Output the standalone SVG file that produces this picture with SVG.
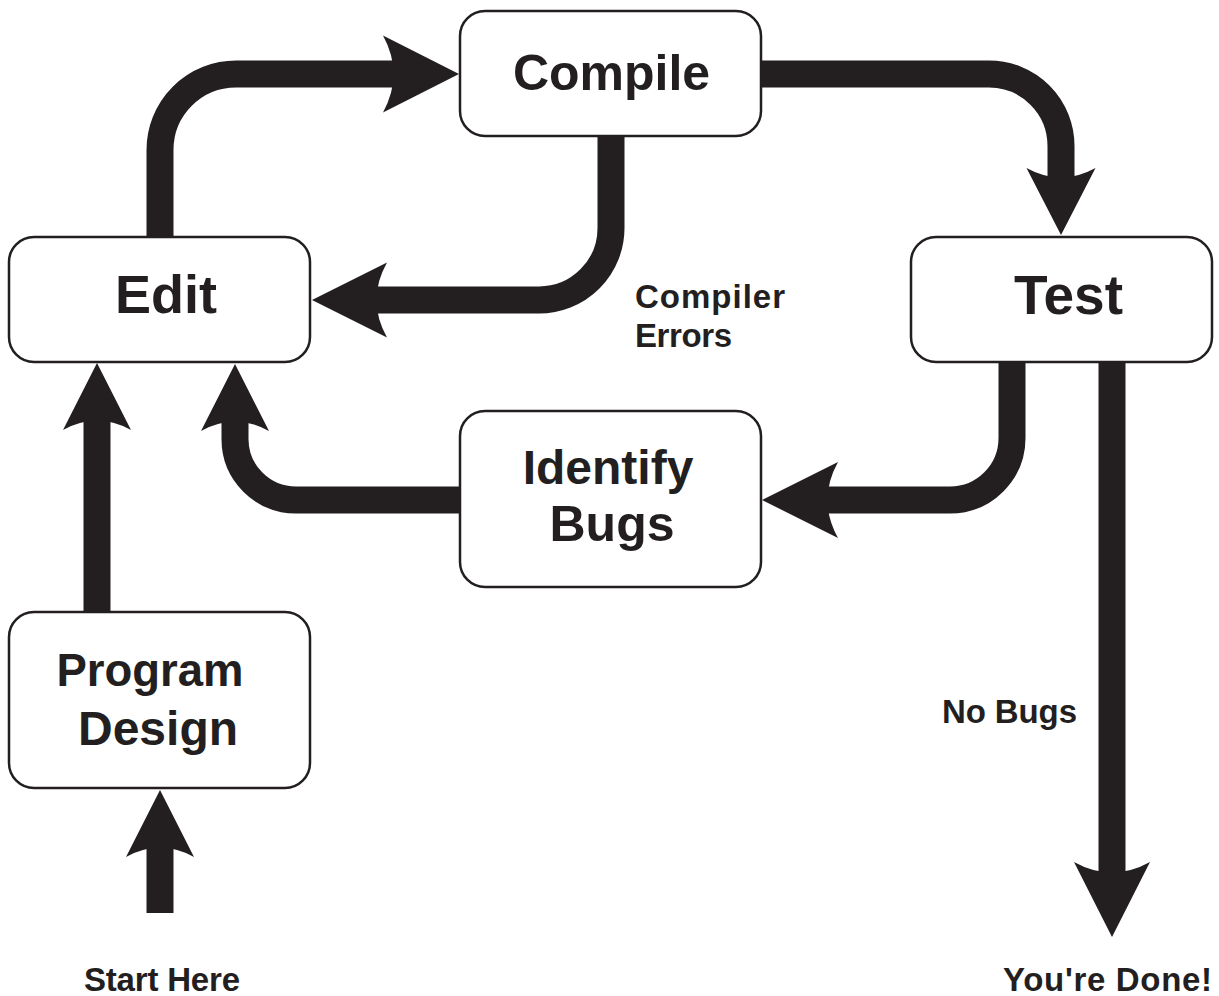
<svg xmlns="http://www.w3.org/2000/svg" width="1219" height="996" viewBox="0 0 1219 996">
<style>
.box{fill:#fff;stroke:#231f20;stroke-width:2.5}
.shaft{fill:none;stroke:#231f20;stroke-width:27;stroke-linecap:butt}
.head{fill:#231f20;stroke:none}
text{font-family:"Liberation Sans",Arial,sans-serif;font-weight:bold;fill:#231f20;text-anchor:middle}
.lbl{font-size:33px;text-anchor:start}
</style>
<rect width="1219" height="996" fill="#fff"/>
<g id="connectors">
<path class="shaft" d="M160 237 V150 A76 76 0 0 1 236 74 H400"/>
<path class="head" d="M459 74 L383 35.5 Q404 74 383 112.5 Z"/>
<path class="shaft" d="M611 136 V228 A72 72 0 0 1 539 300 H375"/>
<path class="head" d="M312 300 L387 262.5 Q366 300 387 337.5 Z"/>
<path class="shaft" d="M761 74 H989 A72 72 0 0 1 1061 146 V180"/>
<path class="head" d="M1061 235 L1026.5 168 Q1061 187 1095.5 168 Z"/>
<path class="shaft" d="M1012 362 V438 A62 62 0 0 1 950 500 H820"/>
<path class="head" d="M762 500 L838 462 Q817 500 838 538 Z"/>
<path class="shaft" d="M460 500 H296 A61 61 0 0 1 235 439 V420"/>
<path class="head" d="M235 364 L201 431 Q235 412 269 431 Z"/>
<path class="shaft" d="M97 612 V420"/>
<path class="head" d="M97 363 L63 430 Q97 411 131 430 Z"/>
<path class="shaft" d="M160 913 V840"/>
<path class="head" d="M160 790 L126 857 Q160 838 194 857 Z"/>
<path class="shaft" d="M1112 362 V880"/>
<path class="head" d="M1112 937 L1074 862 Q1112 883 1150 862 Z"/>
</g>
<g id="compile">
<rect class="box" x="460" y="11" width="301" height="125" rx="25"/>
<text x="611.5" y="90" font-size="50">Compile</text>
</g>
<g id="edit">
<rect class="box" x="9" y="237" width="301" height="125" rx="25"/>
<text x="166" y="313" font-size="54">Edit</text>
</g>
<g id="test">
<rect class="box" x="911" y="237" width="301" height="125" rx="25"/>
<text x="1068.5" y="314" font-size="55">Test</text>
</g>
<g id="identify-bugs">
<rect class="box" x="460" y="411" width="301" height="176" rx="25"/>
<text x="608" y="484" font-size="48">Identify</text>
<text x="612" y="541" font-size="50">Bugs</text>
</g>
<g id="program-design">
<rect class="box" x="9" y="612" width="301" height="176" rx="25"/>
<text x="150" y="686" font-size="45.5">Program</text>
<text x="158" y="745" font-size="48">Design</text>
</g>
<g id="labels">
<text class="lbl" x="635" y="308" font-size="34" textLength="150">Compiler</text>
<text class="lbl" x="635" y="347" font-size="34" textLength="97">Errors</text>
<text class="lbl" x="942" y="723" textLength="135">No Bugs</text>
<text class="lbl" x="84" y="991" textLength="156">Start Here</text>
<text class="lbl" x="1003" y="991" font-size="34.5" textLength="209">You're Done!</text>
</g>
</svg>
